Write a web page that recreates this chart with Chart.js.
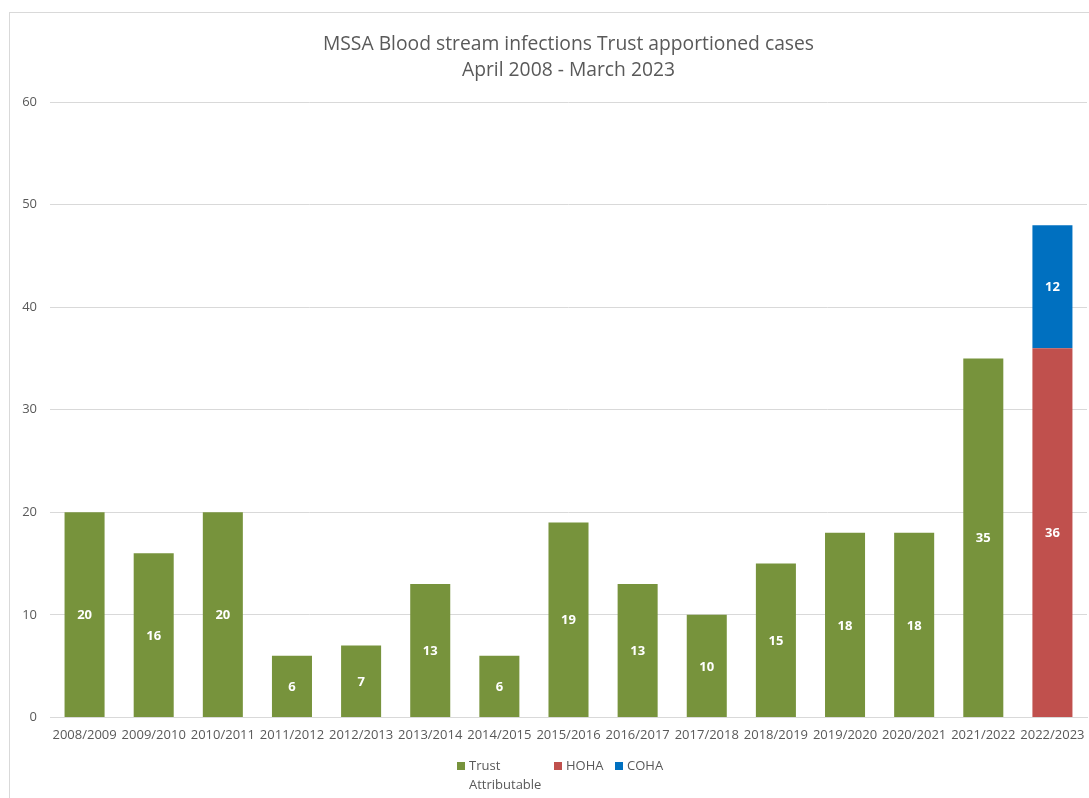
<!DOCTYPE html>
<html>
<head>
<meta charset="utf-8">
<script src="https://cdn.jsdelivr.net/npm/chart.js@4.4.0/dist/chart.umd.min.js"></script>
<style>
  body { margin: 0; background: #fff; overflow: hidden; }
  #frame { position: absolute; left: 9px; top: 12px; width: 1100px; height: 800px;
           border-left: 1px solid #d9d9d9; border-top: 1px solid #d9d9d9; }
  #wrap { position: absolute; left: 0; top: 0; width: 1089px; height: 798px; }
  #legend { position: absolute; top: 756px; left: 457px; font-family: "Open Sans", sans-serif;
            font-size: 13px; color: #595959; line-height: 19px; }
  .item { position: absolute; white-space: nowrap; }
  .box { position: absolute; left: 0; top: 6px; width: 8px; height: 8px; }
  .txt { position: absolute; left: 12px; top: 0; }
</style>
</head>
<body>
<div id="frame"></div>
<div id="wrap"><canvas id="myChart" width="1089" height="798"></canvas></div>
<div id="legend"></div>
<script>
// DATA ---------------------------------------------------------------
var years = ["2008/2009", "2009/2010", "2010/2011", "2011/2012", "2012/2013",
             "2013/2014", "2014/2015", "2015/2016", "2016/2017", "2017/2018",
             "2018/2019", "2019/2020", "2020/2021", "2021/2022", "2022/2023"];
var trustAttributable = [20, 16, 20, 6, 7, 13, 6, 19, 13, 10, 15, 18, 18, 35, null];
var hoha = [null, null, null, null, null, null, null, null, null, null, null, null, null, null, 36];
var coha = [null, null, null, null, null, null, null, null, null, null, null, null, null, null, 12];
var seriesNames = [["Trust", "Attributable"], ["HOHA"], ["COHA"]];
var yTicks = [0, 10, 20, 30, 40, 50, 60];

var colours = ["#77933C", "#C0504D", "#0070C0"];
var grey = "#595959";

// white value labels in the middle of each bar
var barValues = {
  id: "barValues",
  afterDatasetsDraw: function(chart) {
    var ctx = chart.ctx;
    ctx.save();
    ctx.fillStyle = "#fff";
    ctx.font = "bold 13px 'Open Sans', sans-serif";
    ctx.textAlign = "center";
    ctx.textBaseline = "middle";
    chart.data.datasets.forEach(function(ds, i) {
      chart.getDatasetMeta(i).data.forEach(function(bar, j) {
        if (ds.data[j] == null) return;
        var p = bar.getProps(["x", "y", "base"], true);
        ctx.fillText(ds.data[j], p.x, (p.y + p.base) / 2 + 1);
      });
    });
    ctx.restore();
  }
};

// CHART --------------------------------------------------------------
function makeChart() {
  var ctx = document.getElementById("myChart").getContext("2d");
  var datasets = [trustAttributable, hoha, coha].map(function(vals, i) {
    return {
      label: seriesNames[i].join(" "),
      data: vals,
      backgroundColor: colours[i],
      barPercentage: 0.579,
      categoryPercentage: 1.0
    };
  });

  return new Chart(ctx, {
    type: "bar",
    data: { labels: years, datasets: datasets },
    plugins: [barValues],
    options: {
      responsive: false,
      animation: false,
      layout: { padding: { top: 31, right: 2, bottom: 53, left: 0 } },
      plugins: {
        legend: { display: false },
        tooltip: { enabled: false },
        title: {
          display: true,
          fullSize: false,
          text: ["MSSA Blood stream infections Trust apportioned cases", "April 2008 - March 2023"],
          color: grey,
          font: { family: "'Open Sans', sans-serif", size: 19.3, weight: "normal", lineHeight: 1.35 },
          padding: { top: 0, bottom: 19 }
        }
      },
      scales: {
        x: {
          stacked: true,
          afterFit: function(scale) { scale.paddingLeft = 0; scale.paddingRight = 0; },
          grid: { display: false },
          border: { color: "#d9d9d9" },
          ticks: { color: grey, font: { family: "'Open Sans', sans-serif", size: 13 },
                   padding: 2, maxRotation: 0, autoSkip: false }
        },
        y: {
          stacked: true,
          min: 0, max: 60,
          afterBuildTicks: function(scale) {
            scale.ticks = yTicks.map(function(v) { return { value: v }; });
          },
          afterFit: function(scale) { scale.width = 50; },
          grid: { color: "#d9d9d9", drawTicks: false },
          border: { display: false },
          ticks: { color: grey, font: { family: "'Open Sans', sans-serif", size: 13 }, padding: 13 }
        }
      }
    }
  });
}

// LEGEND -------------------------------------------------------------
function makeLegend() {
  var offsets = [0, 97, 158];
  var legend = document.getElementById("legend");
  seriesNames.forEach(function(name, i) {
    var item = document.createElement("div");
    item.className = "item";
    item.style.left = offsets[i] + "px";
    item.innerHTML = '<span class="box" style="background:' + colours[i] + '"></span>' +
                     '<span class="txt">' + name.join("<br>") + '</span>';
    legend.appendChild(item);
  });
}

makeChart();
makeLegend();
</script>
</body>
</html>
